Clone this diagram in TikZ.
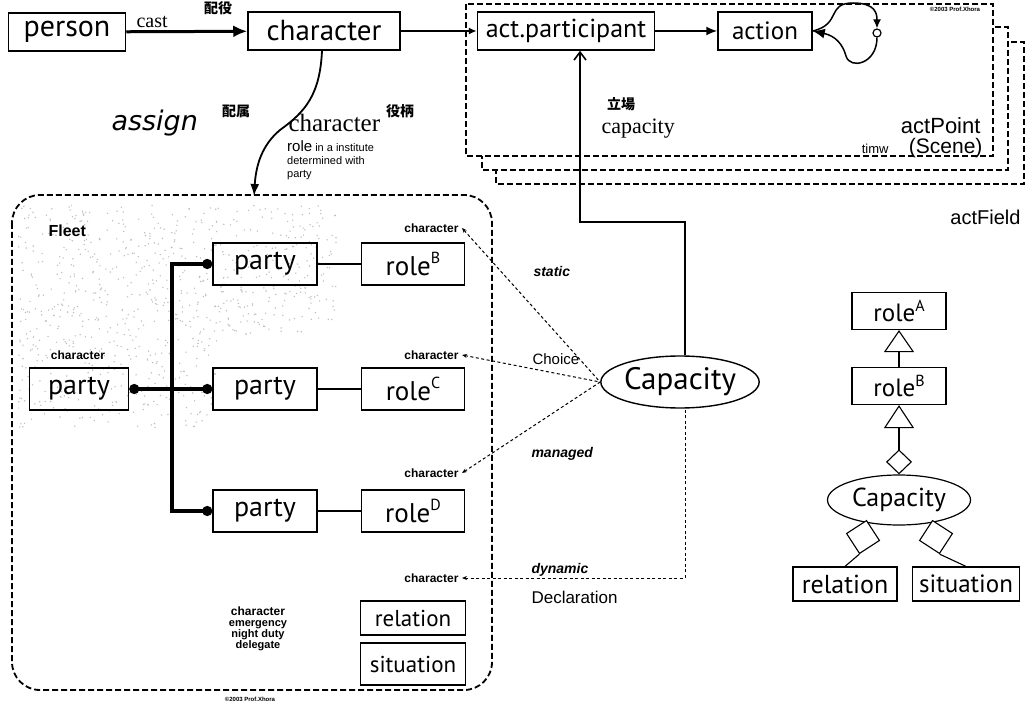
\documentclass[tikz,border=0pt]{standalone}
\usepackage{fontspec}
\usetikzlibrary{arrows.meta,shapes.geometric}
\newfontfamily\bxfont{PT Sans}
\newfontfamily\lbfont{Liberation Sans}
\newfontfamily\srfont{Liberation Serif}
\newfontfamily\dvfont{DejaVu Sans}
\newfontfamily\jpfont{Noto Sans CJK JP}
\newcommand\fsz[1]{\fontsize{#1}{#1}\selectfont}
\newcommand\upl[1]{\raisebox{0.42em}{\fsz{16}#1}}
\begin{document}
\begin{tikzpicture}[x=1pt,y=-1pt,
  box/.style={draw,line width=1.5pt,inner sep=0pt,minimum height=38pt,font=\bxfont\fsz{26}},
  umlbox/.style={draw,line width=1.2pt,inner sep=0pt,minimum height=37pt,font=\bxfont\fsz{25}},
  frame/.style={line width=1.8pt,dash pattern=on 6pt off 3pt},
  tiny/.style={font=\lbfont\bfseries\fsz{12}},
  cjk/.style={font=\jpfont\bfseries\fsz{14}},
  capline/.style={line width=1pt,dash pattern=on 3pt off 2.5pt,{Stealth[length=5pt,width=4pt]}-},
  thick line/.style={line width=3.5pt},
  dotend/.style={-{Circle[length=10pt]}},
  lbl/.style={font=\lbfont\bfseries\itshape\fsz{14}},
  aggmark/.style={draw,diamond,aspect=1,minimum size=34pt,inner sep=0pt,line width=1.1pt,fill=white}
]
\useasboundingbox (0,0) rectangle (1030,708);

% stacked scene frames (back to front)
\draw[frame,fill=white] (496,42) rectangle (1024,184);
\draw[frame,fill=white] (482,27) rectangle (1008,170);
\draw[frame,fill=white] (466,4) rectangle (993,156);

% fleet frame with speckled area
\begin{scope}
  \clip (18,205) -- (338,205) -- (338,335) -- (218,335) -- (218,428) -- (18,428) -- cycle;
  \pgfmathsetseed{11}
  \foreach \i in {1,...,1000}{\fill[gray!50] (18+rnd*320,205+rnd*223) circle (0.8);}
\end{scope}
\draw[frame,rounded corners=28pt] (12,195) rectangle (492,690);

% top row
\node[box,minimum width=117pt,font=\bxfont\fsz{30}] (person) at (67,32) {person};
\node[box,minimum width=152pt,font=\bxfont\fsz{29}] (char) at (324,31) {character};
\node[box,minimum width=177pt] (ap) at (566,31) {act.participant};
\node[box,minimum width=94pt,font=\bxfont\fsz{25}] (action) at (765,31) {action};
\node[draw,circle,line width=1.2pt,minimum size=8pt,inner sep=0pt] (loopc) at (877,33) {};

\draw[line width=3pt,-{Latex[length=14pt,width=12pt]}] (person) -- (char);
\draw[line width=2.2pt,-{Latex[length=8pt,width=7pt]}] (char) -- (ap);
\draw[line width=1.8pt,-{Latex[length=11pt,width=9pt]}] (ap) -- (action);
\draw[line width=1.5pt,-{Latex[length=9pt,width=8pt]}] (action.east)
  .. controls (842,24) and (826,3) .. (853,3)
  .. controls (876,3) and (877,14) .. (loopc.north);
\draw[line width=1.5pt,-{Latex[length=12pt,width=10pt]}] (loopc.south)
  .. controls (877,64) and (850,70) .. (846,56)
  .. controls (843,45) and (836,36) .. (action.east);

\node[cjk] (jcast) at (218,8) {配役};
\node[font=\srfont\fsz{20},anchor=base west] (tcast) at (133,28) {cast};
\node[cjk] (jassign) at (236,111) {配属};
\node[font=\dvfont\itshape\fsz{27},anchor=base west] (tassign) at (108,131) {assign};
\node[cjk] (jchar) at (400,111) {役柄};
\node[font=\srfont\fsz{25},anchor=base west] (tchar) at (285,132) {character};
\node[font=\lbfont\fontsize{11}{13}\selectfont,anchor=north west,align=left,inner sep=0pt] (tchardesc) at (287,140)
  {{\fsz{15}role} in a institute\\determined with\\party};
\node[cjk] (jcap) at (621,104) {立場};
\node[font=\srfont\fsz{22},anchor=base west] (tcap) at (598,134) {capacity};
\node[font=\lbfont\fsz{22},anchor=base east] (tactpoint) at (984,134) {actPoint};
\node[font=\lbfont\fsz{21},anchor=base east] (tscene) at (986,154) {(Scene)};
\node[font=\lbfont\fsz{13},anchor=base east] (ttime) at (892,154) {timw};
\node[font=\lbfont\bfseries\fsz{6}] (copy1) at (955,9) {©2003 Prof.Xhora};
\node[font=\lbfont\fsz{20},anchor=base east] (tfield) at (1024,225) {actField};

% self-assignment arrow into fleet
\draw[line width=1.8pt,-{Latex[length=12pt,width=9pt]}] (char.south -| 322,0)
  .. controls (320,95) and (305,112) .. (280,130)
  .. controls (262,145) and (256,165) .. (254,196);

% fleet contents
\node[font=\lbfont\bfseries\fsz{16},anchor=west] (fleet) at (45,231) {Fleet};
\node[box,minimum width=99pt,minimum height=42pt,font=\bxfont\fsz{28}] (lparty) at (79,389) {party};
\node[box,minimum width=104pt,minimum height=42pt,font=\bxfont\fsz{28}] (pB) at (265,264) {party};
\node[box,minimum width=104pt,minimum height=42pt,font=\bxfont\fsz{28}] (pC) at (265,389) {party};
\node[box,minimum width=104pt,minimum height=42pt,font=\bxfont\fsz{28}] (pD) at (265,511) {party};
\node[box,minimum width=103pt,minimum height=42pt,font=\bxfont\fsz{27}] (rB) at (413,264) {role\upl{B}};
\node[box,minimum width=103pt,minimum height=42pt,font=\bxfont\fsz{27}] (rC) at (413,389) {role\upl{C}};
\node[box,minimum width=103pt,minimum height=42pt,font=\bxfont\fsz{27}] (rD) at (413,511) {role\upl{D}};
\node[box,minimum width=105pt,minimum height=34pt,font=\bxfont\fsz{23}] (rel) at (413,618) {relation};
\node[box,minimum width=105pt,minimum height=42pt,font=\bxfont\fsz{23}] (sit) at (413,664) {situation};

\node[tiny] (clp) at (78,355) {character};
\node[tiny,anchor=east] (cB) at (462,228) {character};
\node[tiny,anchor=east] (cC) at (462,355) {character};
\node[tiny,anchor=east] (cD) at (462,473) {character};
\node[tiny,anchor=east] (cR) at (462,578) {character};
\node[font=\lbfont\bfseries\fsz{11},align=center] (duties) at (258,629)
  {{\fsz{12}character}\\emergency\\night duty\\delegate};
\node[font=\lbfont\bfseries\fsz{6}] (copy2) at (250,699) {©2003 Prof.Xhora};

\coordinate (trunk) at (172,389);
\draw[thick line,{Circle[length=10pt]}-{Circle[length=10pt]}] (lparty.east) -- (pC.west);
\draw[thick line,dotend] (trunk) |- (pB.west);
\draw[thick line,dotend] (trunk) |- (pD.west);
\draw[line width=1.3pt] (pB) -- (rB);
\draw[line width=1.3pt] (pC) -- (rC);
\draw[line width=1.3pt] (pD) -- (rD);

% capacity and its links
\node[draw,ellipse,line width=1.4pt,inner sep=0pt,minimum width=154pt,minimum height=52pt,
  font=\bxfont\fsz{31}] (cap) at (680,382) {Capacity};
\coordinate (bend) at (580,222);
\draw[line width=1.6pt,-{Straight Barb[length=8pt,width=12pt]}]
  ([xshift=5pt]cap.north) |- (bend) -- (bend |- ap.south);
\draw[capline] (cB.east) -- (cap.west);
\draw[capline] (cC.east) -- (cap.west);
\draw[capline] (cD.east) -- (cap.west);
\draw[capline] (cR.east) -| ([xshift=5pt]cap.south);
\node[lbl,anchor=base west] (tstatic) at (530,277) {static};
\node[font=\lbfont\fsz{15},anchor=base west] (tchoice) at (529,364) {Choice};
\node[lbl,anchor=base west] (tmanaged) at (528,457) {managed};
\node[lbl,anchor=base west] (tdynamic) at (528,573) {dynamic};
\node[font=\lbfont\fsz{17},anchor=base west] (tdecl) at (528,603) {Declaration};

% class diagram
\node[umlbox,minimum width=94pt] (rA2) at (899,311) {role\upl{A}};
\node[umlbox,minimum width=94pt] (rB2) at (899,386) {role\upl{B}};
\node[draw,ellipse,line width=1.2pt,inner sep=0pt,minimum width=143pt,minimum height=50pt,
  font=\bxfont\fsz{26}] (cap2) at (899,500) {Capacity};
\node[umlbox,minimum width=104pt,minimum height=34pt,font=\bxfont\fsz{26}] (rel2) at (845,584) {relation};
\node[umlbox,minimum width=107pt,minimum height=34pt,font=\bxfont\fsz{25}] (sit2) at (966,584) {situation};
\draw[line width=1.1pt,-{Triangle[open,length=22pt,width=30pt,line width=1.1pt]}] (rB2) -- (rA2);
\draw[line width=1.1pt,{Diamond[open,length=25pt,width=26pt,line width=1.1pt]}-{Triangle[open,length=23pt,width=30pt,line width=1.1pt]}]
  (cap2.north) -- (rB2.south);
\node[aggmark,rotate=-12] (dL) at (863,537) {};
\node[aggmark,rotate=12] (dR) at (936,537) {};
\draw[line width=1.1pt] (dL.south) -- (rel2.north);
\draw[line width=1.1pt] (dR.south) -- (sit2.north);
\end{tikzpicture}
\end{document}
